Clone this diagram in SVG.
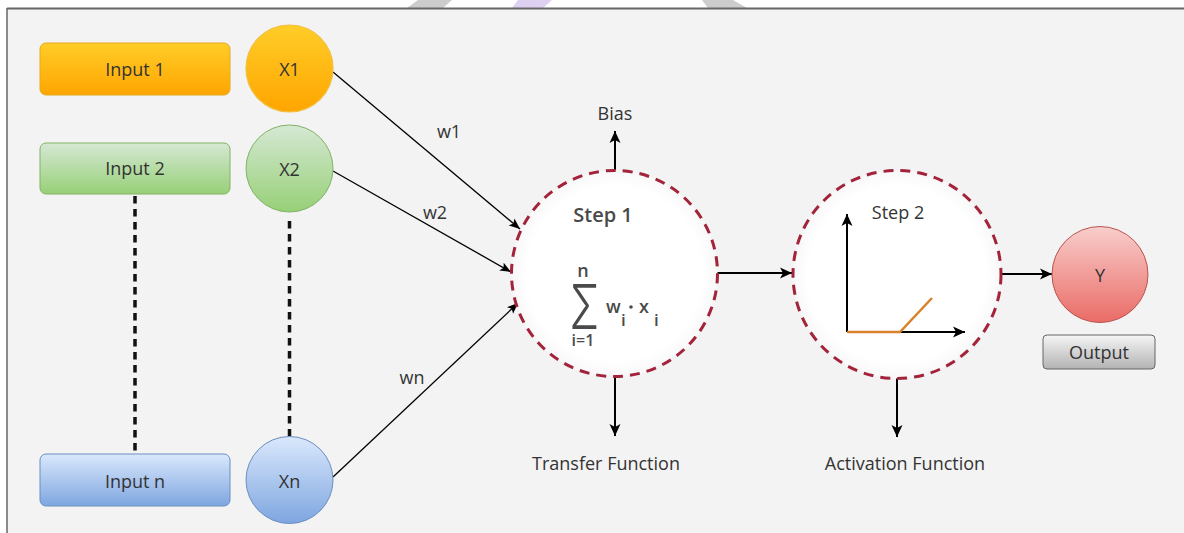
<svg xmlns="http://www.w3.org/2000/svg" width="1184" height="533" viewBox="0 0 1184 533">
<style>
.lbl{font-family:"Open Sans","Liberation Sans",sans-serif;font-size:18px;fill:#333;text-anchor:middle;dominant-baseline:central}
.math{font-family:"Open Sans","Liberation Sans",sans-serif;font-weight:600;fill:#4a4a4a}
.conn{stroke:#000;fill:none}
.thin{stroke-width:1.3}
.bold{stroke-width:2}
.dash{stroke:#111;stroke-width:3.5;stroke-dasharray:7.5 5.5;fill:none}
.step{fill:url(#gStep);stroke:#a3243a;stroke-width:3;stroke-dasharray:10 7}
</style>
<defs>
<linearGradient id="gOrange" x1="0" y1="0" x2="0" y2="1"><stop offset="0" stop-color="#ffcd28"/><stop offset="1" stop-color="#ffa500"/></linearGradient>
<linearGradient id="gGreen" x1="0" y1="0" x2="0" y2="1"><stop offset="0" stop-color="#d5e8d4"/><stop offset="1" stop-color="#97d077"/></linearGradient>
<linearGradient id="gBlue" x1="0" y1="0" x2="0" y2="1"><stop offset="0" stop-color="#dae8fc"/><stop offset="1" stop-color="#7ea6e0"/></linearGradient>
<linearGradient id="gRed" x1="0" y1="0" x2="0" y2="1"><stop offset="0" stop-color="#f8cecc"/><stop offset="1" stop-color="#ea6b66"/></linearGradient>
<linearGradient id="gGray" x1="0" y1="0" x2="0" y2="1"><stop offset="0" stop-color="#f5f5f5"/><stop offset="1" stop-color="#b3b3b3"/></linearGradient>
<radialGradient id="gStep"><stop offset="0" stop-color="#fff"/><stop offset="0.85" stop-color="#fff"/><stop offset="1" stop-color="#f8f8f8"/></radialGradient>
<marker id="arr" markerUnits="userSpaceOnUse" markerWidth="14" markerHeight="12" refX="12" refY="6" orient="auto" viewBox="0 0 14 12"><path d="M0,0.5 L12,6 L0,11.5 L3,6 z" fill="#000"/></marker>
<marker id="arrS" markerUnits="userSpaceOnUse" markerWidth="12" markerHeight="10" refX="11" refY="5" orient="auto" viewBox="0 0 12 10"><path d="M0,0.5 L11,5 L0,9.5 L2.5,5 z" fill="#000"/></marker>
</defs>
<rect x="0" y="0" width="1184" height="533" fill="#ffffff"/>
<polygon points="418,0 452,0 443,8 407,8" fill="#cccccc"/>
<polygon points="518,0 552,0 543,8 512,8" fill="#ddd0f0"/>
<polygon points="702,0 733,0 747,8 708,8" fill="#cccccc"/>
<rect x="7" y="9" width="1177" height="524" fill="#f3f3f3"/>
<line x1="7" y1="8.5" x2="1184" y2="8.5" stroke="#666" stroke-width="2"/>
<line x1="7" y1="8" x2="7" y2="533" stroke="#666" stroke-width="1.5"/>

<g id="connectors">
<line class="dash" x1="135" y1="196" x2="135" y2="454"/>
<line class="dash" x1="289.5" y1="221" x2="289.5" y2="437"/>
<line class="conn thin" x1="333" y1="72" x2="520" y2="229" marker-end="url(#arrS)"/>
<line class="conn thin" x1="333" y1="171" x2="511" y2="272" marker-end="url(#arrS)"/>
<line class="conn thin" x1="333" y1="477" x2="518" y2="303" marker-end="url(#arrS)"/>
<line class="conn bold" x1="615" y1="170" x2="615" y2="131" marker-end="url(#arr)"/>
<line class="conn bold" x1="615" y1="377" x2="615" y2="436" marker-end="url(#arr)"/>
<line class="conn bold" x1="717" y1="273" x2="792" y2="273" marker-end="url(#arr)"/>
<line class="conn bold" x1="1002" y1="274" x2="1052" y2="274" marker-end="url(#arr)"/>
<line class="conn bold" x1="897" y1="378" x2="897" y2="437" marker-end="url(#arr)"/>
<text class="lbl" x="449" y="131">w1</text>
<text class="lbl" x="435" y="212">w2</text>
<text class="lbl" x="412" y="377">wn</text>
</g>

<g id="input1"><rect x="40" y="43" width="190" height="52" rx="6" fill="url(#gOrange)" stroke="#e6a820" stroke-width="1"/><text class="lbl" x="135" y="69">Input 1</text></g>
<g id="x1"><circle cx="289.5" cy="68.5" r="43.5" fill="url(#gOrange)" stroke="#f0c040" stroke-width="1.2"/><text class="lbl" x="289.5" y="69">X1</text></g>
<g id="input2"><rect x="40" y="143" width="190" height="51" rx="6" fill="url(#gGreen)" stroke="#82b366" stroke-width="1"/><text class="lbl" x="135" y="168">Input 2</text></g>
<g id="x2"><circle cx="289.5" cy="168.5" r="43.5" fill="url(#gGreen)" stroke="#82b366" stroke-width="1"/><text class="lbl" x="289.5" y="169">X2</text></g>
<g id="inputn"><rect x="40" y="454" width="190" height="52" rx="6" fill="url(#gBlue)" stroke="#6c8ebf" stroke-width="1"/><text class="lbl" x="135" y="481">Input n</text></g>
<g id="xn"><circle cx="289.5" cy="480" r="43.5" fill="url(#gBlue)" stroke="#6c8ebf" stroke-width="1"/><text class="lbl" x="289.5" y="481">Xn</text></g>

<g id="step1">
<circle class="step" cx="614.5" cy="273.5" r="103"/>
<text class="lbl" x="603" y="214" style="font-size:20px;font-weight:600;fill:#4a4a4a">Step 1</text>
<text class="math" x="583" y="277" style="font-size:18px;text-anchor:middle">n</text>
<text transform="translate(584.5,329) scale(0.7,1)" style="font-family:Inter,'Liberation Sans',sans-serif;font-size:62px;font-weight:300;fill:#4a4a4a;text-anchor:middle">Σ</text>
<text class="math" x="583" y="346" style="font-size:16px;text-anchor:middle">i=1</text>
<text class="math" x="606" y="313" style="font-size:18px">w</text>
<text class="math" x="621" y="326" style="font-size:17px">i</text>
<circle cx="631" cy="307" r="1.8" fill="#4a4a4a"/>
<text class="math" x="639" y="313" style="font-size:18px">x</text>
<text class="math" x="654" y="326" style="font-size:17px">i</text>
</g>
<g id="bias"><text class="lbl" x="615" y="113">Bias</text></g>
<g id="transfer"><text class="lbl" x="606" y="463">Transfer Function</text></g>

<g id="step2">
<circle class="step" cx="897" cy="274.5" r="104"/>
<text class="lbl" x="898" y="212">Step 2</text>
<line class="conn bold" x1="847" y1="332" x2="847" y2="214" marker-end="url(#arr)"/>
<line class="conn bold" x1="847" y1="332" x2="965" y2="332" marker-end="url(#arr)"/>
<polyline points="847,332 900,332 932,298" fill="none" stroke="#d9822b" stroke-width="2.5"/>
</g>
<g id="activation"><text class="lbl" x="905" y="463">Activation Function</text></g>

<g id="y"><circle cx="1100" cy="274.5" r="48" fill="url(#gRed)" stroke="#b85450" stroke-width="1"/><text class="lbl" x="1100" y="275">Y</text></g>
<g id="output"><rect x="1043" y="335" width="112" height="34" rx="4" fill="url(#gGray)" stroke="#666" stroke-width="1"/><text class="lbl" x="1099" y="352">Output</text></g>
</svg>
